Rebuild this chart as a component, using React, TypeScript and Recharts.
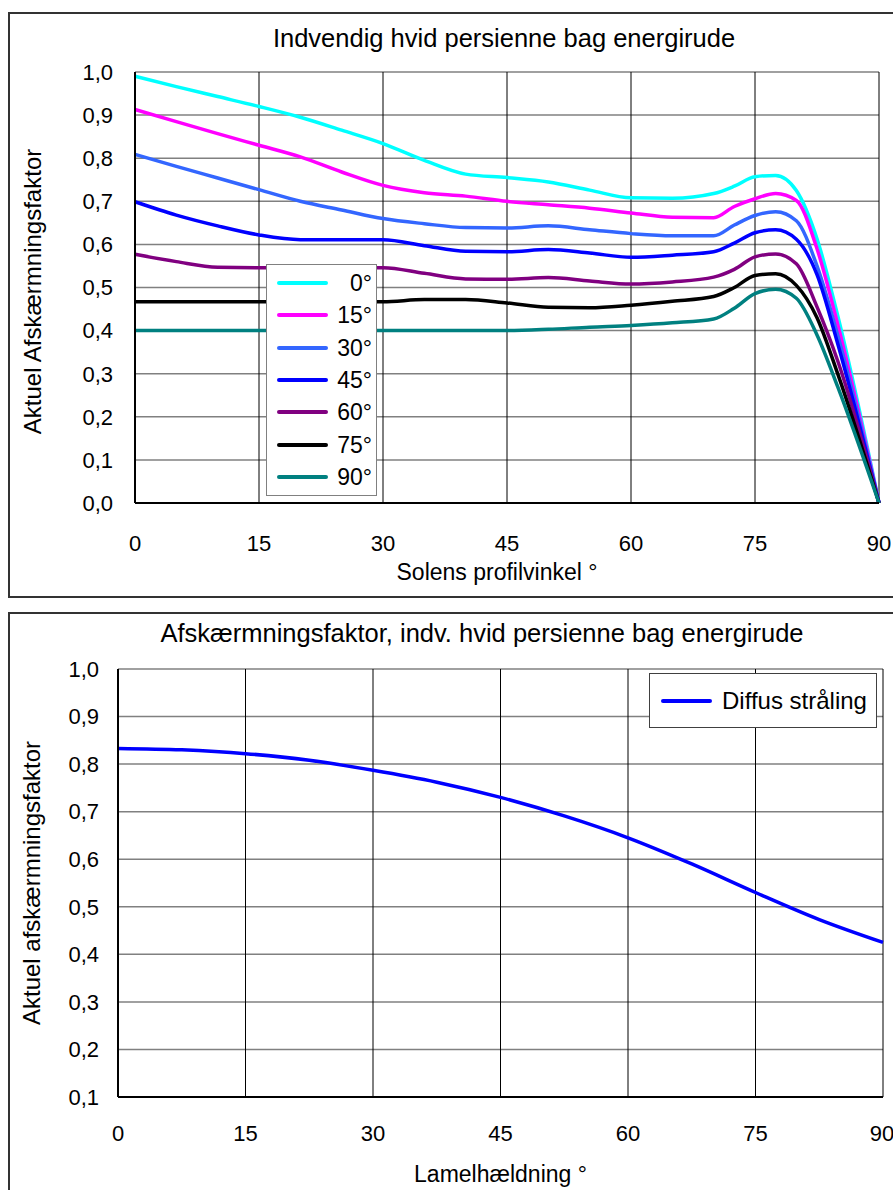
import React from 'react';
import { LineChart, Line, XAxis, YAxis, CartesianGrid, Legend } from 'recharts';

const FONT = '"Liberation Sans", Arial, sans-serif';

// Top chart: solar profile angle vs. shading factor, one curve per slat angle
const profileAngles = [0, 5, 10, 15, 20, 25, 30, 35, 40, 45, 50, 55, 60, 65, 70, 72.5, 75, 77.5, 80, 82.5, 85, 90];
const slat0 = [0.99, 0.966, 0.943, 0.92, 0.895, 0.865, 0.834, 0.795, 0.763, 0.755, 0.745, 0.726, 0.708, 0.707, 0.718, 0.735, 0.757, 0.76, 0.725, 0.613, 0.435, 0];
const slat15 = [0.913, 0.885, 0.857, 0.83, 0.803, 0.768, 0.737, 0.72, 0.712, 0.7, 0.692, 0.684, 0.673, 0.663, 0.662, 0.688, 0.706, 0.718, 0.702, 0.59, 0.415, 0];
const slat30 = [0.809, 0.781, 0.754, 0.727, 0.7, 0.68, 0.66, 0.648, 0.639, 0.638, 0.643, 0.634, 0.625, 0.62, 0.62, 0.645, 0.667, 0.676, 0.655, 0.55, 0.39, 0];
const slat45 = [0.699, 0.668, 0.643, 0.622, 0.611, 0.611, 0.611, 0.597, 0.584, 0.583, 0.588, 0.58, 0.57, 0.575, 0.583, 0.603, 0.627, 0.634, 0.612, 0.53, 0.37, 0];
const slat60 = [0.577, 0.56, 0.547, 0.546, 0.546, 0.546, 0.546, 0.533, 0.52, 0.519, 0.523, 0.515, 0.508, 0.513, 0.524, 0.542, 0.571, 0.578, 0.555, 0.455, 0.33, 0];
const slat75 = [0.467, 0.467, 0.467, 0.467, 0.467, 0.467, 0.467, 0.472, 0.472, 0.464, 0.454, 0.453, 0.459, 0.468, 0.479, 0.5, 0.528, 0.532, 0.505, 0.43, 0.3, 0];
const slat90 = [0.4, 0.4, 0.4, 0.4, 0.4, 0.4, 0.4, 0.4, 0.4, 0.4, 0.403, 0.408, 0.412, 0.418, 0.427, 0.452, 0.486, 0.496, 0.475, 0.39, 0.27, 0];

const seriesNames = ['0°', '15°', '30°', '45°', '60°', '75°', '90°'];
const seriesColors = ['#00FFFF', '#FF00FF', '#3366FF', '#0000FF', '#800080', '#000000', '#008080'];
const seriesValues = [slat0, slat15, slat30, slat45, slat60, slat75, slat90];

const angleTicks = [0, 15, 30, 45, 60, 75, 90];
const topYTicks = [0, 0.1, 0.2, 0.3, 0.4, 0.5, 0.6, 0.7, 0.8, 0.9, 1.0];

// Bottom chart: slat tilt vs. shading factor for diffuse radiation
const slatTilts = [0, 7.5, 15, 22.5, 30, 37.5, 45, 52.5, 60, 67.5, 75, 82.5, 90];
const diffuse = [0.833, 0.83, 0.822, 0.808, 0.787, 0.762, 0.73, 0.691, 0.645, 0.59, 0.53, 0.473, 0.425];
const bottomYTicks = [0.1, 0.2, 0.3, 0.4, 0.5, 0.6, 0.7, 0.8, 0.9, 1.0];

const topData = profileAngles.map((a, i) => {
  const row: Record<string, number> = { angle: a };
  seriesNames.forEach((n, s) => {
    row[n] = seriesValues[s][i];
  });
  return row;
});

const bottomData = slatTilts.map((a, i) => ({ tilt: a, diffus: diffuse[i] }));

const fmt = (v: number) => v.toFixed(1).replace('.', ',');

const tickStyle = { fill: '#000', fontSize: 22, fontFamily: FONT };

const TopLegend = (props: any) => {
  const payload = props.payload || [];
  return (
    <div
      style={{
        width: 111,
        height: 232,
        boxSizing: 'border-box',
        border: '1px solid #808080',
        background: '#fff',
        paddingTop: 2,
        fontFamily: FONT,
        fontSize: 23,
      }}
    >
      {payload.map((p: any) => (
        <div key={p.value} style={{ height: 32.3, display: 'flex', alignItems: 'center', position: 'relative' }}>
          <div style={{ position: 'absolute', left: 10, width: 51, height: 4, background: p.color, borderRadius: 2 }} />
          <div style={{ position: 'absolute', right: 4, lineHeight: '32px', color: '#000' }}>{p.value}</div>
        </div>
      ))}
    </div>
  );
};

const BottomLegend = (props: any) => {
  const payload = props.payload || [];
  return (
    <div
      style={{
        width: 228,
        height: 55,
        boxSizing: 'border-box',
        border: '1px solid #404040',
        background: '#fff',
        position: 'relative',
        fontFamily: FONT,
        fontSize: 24,
      }}
    >
      {payload.map((p: any) => (
        <React.Fragment key={p.value}>
          <div style={{ position: 'absolute', left: 11, top: 25, width: 51, height: 4, background: p.color, borderRadius: 2 }} />
          <div style={{ position: 'absolute', left: 72, top: 0, lineHeight: '53px', color: '#000' }}>{p.value}</div>
        </React.Fragment>
      ))}
    </div>
  );
};

const titleStyle = (cx: number, cy: number): React.CSSProperties => ({
  position: 'absolute',
  left: cx - 400,
  width: 800,
  top: cy - 15,
  height: 30,
  lineHeight: '30px',
  textAlign: 'center',
  fontFamily: FONT,
  fontSize: 25.5,
  color: '#000',
});

export default function App() {
  return (
    <div style={{ position: 'absolute', left: 0, top: 0, width: 893, height: 1190, overflow: 'hidden', background: '#fff' }}>
      <div style={{ position: 'absolute', left: 8, top: 12, width: 900, height: 586, border: '2px solid #333', boxSizing: 'border-box' }} />
      <div style={{ position: 'absolute', left: 8, top: 612, width: 900, height: 600, border: '2px solid #333', boxSizing: 'border-box' }} />

      <div style={titleStyle(504, 38)}>Indvendig hvid persienne bag energirude</div>
      <div style={titleStyle(482, 633)}>Afskærmningsfaktor, indv. hvid persienne bag energirude</div>

      <div style={{ position: 'absolute', left: 0, top: 0 }}>
        <LineChart width={893} height={600} data={topData} margin={{ top: 72, right: 14, bottom: 0, left: 0 }}>
          <CartesianGrid vertical={false} stroke="#808080" strokeWidth={1.5} fill="#fff" />
          <CartesianGrid horizontal={false} stroke="#000" strokeWidth={1} />
          <XAxis
            dataKey="angle"
            type="number"
            domain={[0, 90]}
            ticks={angleTicks}
            height={97}
            tickSize={0}
            tickLine={false}
            tickMargin={32}
            tick={tickStyle}
            axisLine={{ stroke: '#000', strokeWidth: 2 }}
            label={{ value: 'Solens profilvinkel °', position: 'insideBottom', offset: 20, dx: -10, fill: '#000', fontSize: 23, fontFamily: FONT }}
          />
          <YAxis
            type="number"
            domain={[0, 1]}
            ticks={topYTicks}
            width={135}
            tickSize={0}
            tickLine={false}
            tickMargin={22}
            tickFormatter={fmt}
            tick={tickStyle}
            axisLine={{ stroke: '#000', strokeWidth: 2 }}
            label={{ value: 'Aktuel Afskærmningsfaktor', position: 'center', angle: -90, dx: -35, dy: 4, fill: '#000', fontSize: 24, fontFamily: FONT }}
          />
          {seriesNames.map((n, i) => (
            <Line
              key={n}
              type="monotone"
              dataKey={n}
              name={n}
              stroke={seriesColors[i]}
              strokeWidth={3.5}
              dot={false}
              isAnimationActive={false}
            />
          ))}
          <Legend
            layout="vertical"
            align="center"
            verticalAlign="middle"
            content={TopLegend}
            wrapperStyle={{ left: 266, top: 264, width: 111, height: 232 }}
          />
        </LineChart>
      </div>

      <div style={{ position: 'absolute', left: 0, top: 600 }}>
        <LineChart width={893} height={590} data={bottomData} margin={{ top: 69, right: 10, bottom: 0, left: 0 }}>
          <CartesianGrid vertical={false} stroke="#808080" strokeWidth={1.5} fill="#fff" />
          <CartesianGrid horizontal={false} stroke="#000" strokeWidth={1} />
          <XAxis
            dataKey="tilt"
            type="number"
            domain={[0, 90]}
            ticks={angleTicks}
            height={93}
            tickSize={0}
            tickLine={false}
            tickMargin={28}
            tick={tickStyle}
            axisLine={{ stroke: '#000', strokeWidth: 2 }}
            label={{ value: 'Lamelhældning °', position: 'insideBottom', offset: 8, fill: '#000', fontSize: 23, fontFamily: FONT }}
          />
          <YAxis
            type="number"
            domain={[0.1, 1]}
            ticks={bottomYTicks}
            width={118}
            tickSize={0}
            tickLine={false}
            tickMargin={19}
            tickFormatter={fmt}
            tick={tickStyle}
            axisLine={{ stroke: '#000', strokeWidth: 2 }}
            label={{ value: 'Aktuel afskærmningsfaktor', position: 'center', angle: -90, dx: -28, fill: '#000', fontSize: 24, fontFamily: FONT }}
          />
          <Line
            type="monotone"
            dataKey="diffus"
            name="Diffus stråling"
            stroke="#0000FF"
            strokeWidth={3.5}
            dot={false}
            isAnimationActive={false}
          />
          <Legend
            layout="vertical"
            align="center"
            verticalAlign="middle"
            content={BottomLegend}
            wrapperStyle={{ left: 649, top: 73, width: 228, height: 55 }}
          />
        </LineChart>
      </div>
    </div>
  );
}
